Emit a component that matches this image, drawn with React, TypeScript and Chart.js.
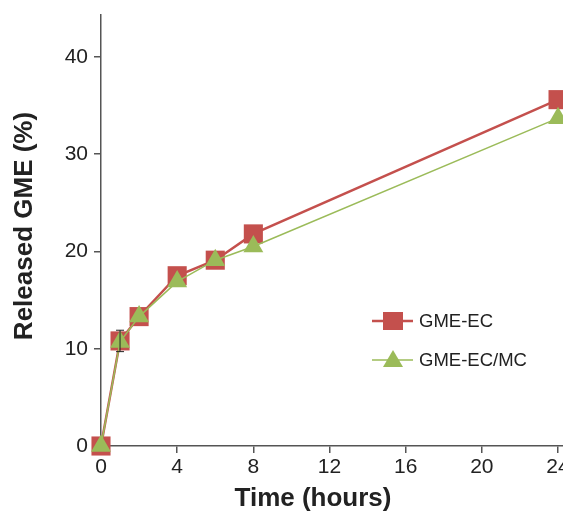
import React, { useEffect, useRef } from "react";
import { Chart, registerables } from "chart.js";
Chart.register(...registerables);

const timeHours = [0, 1, 2, 4, 6, 8, 24];
const gmeEC = [0, 10.8, 13.3, 17.5, 19.1, 21.8, 35.6];
const gmeECErr = [0, 1.1, 0, 0, 0, 0, 0];
const gmeECMC = [0, 10.7, 13.3, 16.9, 19.1, 20.5, 33.7];
const xTickValues = [0, 4, 8, 12, 16, 20, 24];
const yTickValues = [0, 10, 20, 30, 40];
const seriesNames = ["GME-EC", "GME-EC/MC"];
const xTitle = "Time (hours)";
const yTitle = "Released GME (%)";

const RED = "#C4504D";
const GREEN = "#9BBB59";
const FONT = "'Liberation Sans', Arial, sans-serif";

export default function App() {
  const ref = useRef<HTMLCanvasElement | null>(null);
  useEffect(() => {
    document.body.style.margin = "0";
    const canvas = ref.current!;
    const extras = {
      id: "extras",
      afterDatasetsDraw(chart: any) {
        const ctx = chart.ctx;
        const xs = chart.scales.x;
        const ys = chart.scales.y;
        ctx.save();
        ctx.strokeStyle = "#222";
        ctx.lineWidth = 1;
        timeHours.forEach((t, i) => {
          const e = gmeECErr[i];
          if (!e) return;
          const x = xs.getPixelForValue(t);
          const y1 = ys.getPixelForValue(gmeEC[i] + e);
          const y2 = ys.getPixelForValue(gmeEC[i] - e);
          ctx.beginPath();
          ctx.moveTo(x, y1); ctx.lineTo(x, y2);
          ctx.moveTo(x - 4, y1); ctx.lineTo(x + 4, y1);
          ctx.moveTo(x - 4, y2); ctx.lineTo(x + 4, y2);
          ctx.stroke();
        });
        ctx.restore();
      },
      afterDraw(chart: any) {
        const ctx = chart.ctx;
        ctx.save();
        ctx.fillStyle = "#222";
        ctx.font = `bold 26px ${FONT}`;
        ctx.textAlign = "center";
        ctx.textBaseline = "middle";
        ctx.fillText(xTitle, 313, 499);
        ctx.save();
        ctx.translate(25, 226);
        ctx.rotate(-Math.PI / 2);
        ctx.fillText(yTitle, 0, 0);
        ctx.restore();
        const items = [
          { name: seriesNames[0], color: RED, shape: "rect", y: 321, lw: 2.5 },
          { name: seriesNames[1], color: GREEN, shape: "tri", y: 360, lw: 1.5 },
        ];
        items.forEach((it) => {
          ctx.strokeStyle = it.color;
          ctx.lineWidth = it.lw;
          ctx.beginPath();
          ctx.moveTo(372, it.y);
          ctx.lineTo(413, it.y);
          ctx.stroke();
          ctx.fillStyle = it.color;
          if (it.shape === "rect") {
            ctx.fillRect(383, it.y - 9, 20, 18);
          } else {
            ctx.beginPath();
            ctx.moveTo(393, it.y - 10);
            ctx.lineTo(403, it.y + 7);
            ctx.lineTo(383, it.y + 7);
            ctx.closePath();
            ctx.fill();
          }
          ctx.fillStyle = "#222";
          ctx.font = `18.5px ${FONT}`;
          ctx.textAlign = "left";
          ctx.textBaseline = "middle";
          ctx.fillText(it.name, 419, it.y + 1);
        });
        ctx.restore();
      },
    };
    const chart = new Chart(canvas, {
      type: "line",
      data: {
        datasets: [
          {
            label: seriesNames[0],
            data: timeHours.map((t, i) => ({ x: t, y: gmeEC[i] })),
            borderColor: RED,
            backgroundColor: RED,
            borderWidth: 2.5,
            pointStyle: "rect",
            pointRadius: 13.5,
            pointBorderWidth: 0,
            pointBackgroundColor: RED,
            clip: false as any,
            order: 2,
          },
          {
            label: seriesNames[1],
            data: timeHours.map((t, i) => ({ x: t, y: gmeECMC[i] })),
            borderColor: GREEN,
            backgroundColor: GREEN,
            borderWidth: 1.5,
            pointStyle: "triangle",
            pointRadius: 11.5,
            pointBorderWidth: 0,
            pointBackgroundColor: GREEN,
            clip: false as any,
            order: 1,
          },
        ],
      },
      options: {
        animation: false,
        responsive: false,
        layout: { autoPadding: false, padding: { top: 15, right: 0, bottom: 0, left: 0 } },
        plugins: { legend: { display: false }, tooltip: { enabled: false } },
        scales: {
          x: {
            type: "linear",
            min: 0,
            max: 24.26,
            afterFit: (s: any) => {
              s.height = 68;
              s.paddingLeft = 0;
              s.paddingRight = 0;
            },
            afterBuildTicks: (s: any) => {
              s.ticks = xTickValues.map((v) => ({ value: v }));
            },
            grid: { drawOnChartArea: false, drawTicks: true, tickLength: 7, color: "#555", lineWidth: 1.5 },
            border: { display: true, color: "#555", width: 1.5 },
            ticks: { color: "#222", font: { size: 21, family: FONT }, padding: 2, maxRotation: 0, autoSkip: false },
          },
          y: {
            type: "linear",
            min: 0,
            max: 44.3,
            afterFit: (s: any) => {
              s.width = 101;
              s.paddingTop = 0;
              s.paddingBottom = 0;
            },
            afterBuildTicks: (s: any) => {
              s.ticks = yTickValues.map((v) => ({ value: v }));
            },
            grid: { drawOnChartArea: false, drawTicks: true, tickLength: 7, color: "#555", lineWidth: 1.5 },
            border: { display: true, color: "#555", width: 1.5 },
            ticks: { color: "#222", font: { size: 21, family: FONT }, padding: 6 },
          },
        },
      },
      plugins: [extras],
    });
    return () => chart.destroy();
  }, []);
  return (
    <div style={{ width: 563, height: 514 }}>
      <canvas ref={ref} width={563} height={514} style={{ display: "block" }} />
    </div>
  );
}
